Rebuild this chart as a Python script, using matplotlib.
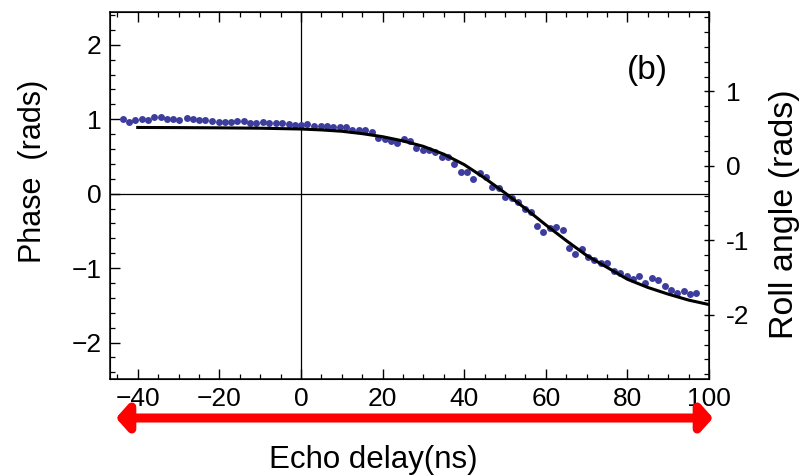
import matplotlib
matplotlib.use("Agg")
import matplotlib.pyplot as plt
from matplotlib.patches import FancyArrowPatch
from matplotlib.ticker import MultipleLocator, FixedLocator

plt.rcParams["font.family"] = ["Liberation Sans", "DejaVu Sans"]

# --- measured echo phase (dots) ---
delay_ns = [-43.6, -42.1, -40.6, -38.9, -37.5, -36.0, -34.4, -32.8, -31.3, -29.8,
            -28.0, -26.5, -24.9, -23.4, -21.8, -20.2, -18.7, -17.1, -15.6, -14.0,
            -12.4, -10.9, -9.3, -7.8, -6.2, -4.6, -3.0, -1.5, 0.1, 1.6,
            3.2, 4.9, 6.4, 7.9, 9.5, 11.1, 12.6, 14.2, 15.7, 17.3,
            18.9, 20.5, 22.0, 23.5, 25.2, 26.7, 28.3, 29.8, 31.4, 32.9,
            34.5, 36.0, 37.6, 39.1, 40.7, 42.2, 43.8, 45.4, 46.9, 48.5,
            50.1, 51.7, 53.2, 54.8, 56.3, 57.9, 59.4, 61.0, 62.5, 64.1,
            65.7, 67.2, 68.8, 70.4, 71.9, 73.5, 75.1, 76.7, 78.2, 79.8,
            81.3, 82.9, 84.4, 86.0, 87.6, 89.2, 90.7, 92.2, 93.8, 95.4, 96.9]
phase = [0.996, 0.969, 0.983, 1.000, 0.983, 1.023, 1.023, 1.009, 1.004, 0.991,
         1.017, 0.996, 0.987, 0.983, 0.977, 0.964, 0.969, 0.969, 0.973, 0.973,
         0.950, 0.950, 0.956, 0.946, 0.946, 0.946, 0.937, 0.923, 0.923, 0.929,
         0.915, 0.902, 0.902, 0.897, 0.897, 0.889, 0.856, 0.856, 0.852, 0.826,
         0.749, 0.732, 0.709, 0.682, 0.736, 0.705, 0.611, 0.588, 0.588, 0.557,
         0.490, 0.486, 0.400, 0.289, 0.289, 0.191, 0.271, 0.221, 0.083, 0.074,
         -0.043, -0.056, -0.110, -0.204, -0.252, -0.436, -0.521, -0.459, -0.450, -0.486,
         -0.736, -0.808, -0.742, -0.848, -0.893, -0.929, -0.929, -1.044, -1.071, -1.107,
         -1.144, -1.103, -1.201, -1.130, -1.165, -1.238, -1.291, -1.340, -1.309, -1.349,
         -1.332]

# --- theory curve (black line) ---
fit_ns = [-40, -30, -20, -10, 0, 5, 10, 15, 20, 25, 30, 35, 40, 45, 50,
          55, 60, 65, 70, 75, 80, 85, 90, 95, 100]
fit_phase = [0.889, 0.887, 0.884, 0.879, 0.868, 0.856, 0.838, 0.806, 0.765, 0.708,
             0.635, 0.530, 0.390, 0.210, 0.010, -0.200, -0.420, -0.630, -0.830, -0.990,
             -1.150, -1.260, -1.350, -1.430, -1.490]

x_ticks = [-40, -20, 0, 20, 40, 60, 80, 100]
x_labels = ["\u221240", "\u221220", "0", "20", "40", "60", "80", "100"]
phase_ticks = [-2, -1, 0, 1, 2]
phase_labels = ["\u22122", "\u22121", "0", "1", "2"]
roll_ticks = [-2, -1, 0, 1]
roll_labels = ["-2", "-1", "0", "1"]

ROLL_OFFSET = 0.373   # roll = phase - offset
XLIM = (-46.8, 100)
YLIM = (-2.49, 2.44)

fig = plt.figure(figsize=(8.06, 4.76), dpi=100)
ax = fig.add_axes([110/806, 97/476, 599/806, 367/476])

ax.axvline(0, color="black", lw=0.9, zorder=1)
ax.axhline(0, color="black", lw=0.9, zorder=1)
ax.plot(delay_ns, phase, "o", color="#3d3d9e", ms=5.0, mec="none", zorder=3)
ax.plot(fit_ns, fit_phase, color="black", lw=2.2, zorder=4)

ax.set_xlim(*XLIM)
ax.set_ylim(*YLIM)

ax.xaxis.set_major_locator(FixedLocator(x_ticks))
ax.set_xticklabels(x_labels)
ax.xaxis.set_minor_locator(MultipleLocator(5))
ax.yaxis.set_major_locator(FixedLocator(phase_ticks))
ax.set_yticklabels(phase_labels)
ax.yaxis.set_minor_locator(MultipleLocator(0.2))

ax.tick_params(axis="x", which="both", direction="in", top=True, labelsize=19, pad=6)
ax.tick_params(axis="y", which="both", direction="in", right=False, labelsize=19, pad=6)
ax.tick_params(which="major", length=7, width=1.0)
ax.tick_params(which="minor", length=3.6, width=0.9)
for s in ax.spines.values():
    s.set_linewidth(1.1)

ax2 = ax.twinx()
ax2.set_ylim(YLIM[0] - ROLL_OFFSET, YLIM[1] - ROLL_OFFSET)
ax2.yaxis.set_major_locator(FixedLocator(roll_ticks))
ax2.set_yticklabels(roll_labels)
ax2.yaxis.set_minor_locator(MultipleLocator(0.2))
ax2.tick_params(axis="y", which="major", direction="inout", length=7, width=1.0,
                labelsize=19, pad=9)
ax2.tick_params(axis="y", which="minor", direction="in", length=3.6, width=0.9)

fig.text(647/806, 1 - 70/476, "(b)", fontsize=24, ha="center", va="center")

fig.text(33/806, 1 - 171/476, "Phase  (rads)", rotation=90, fontsize=22,
         ha="center", va="center")
fig.text(785/806, 1 - 214/476, "Roll angle (rads)", rotation=90, fontsize=24.5,
         ha="center", va="center")
fig.text(373/806, 1 - 460/476, "Echo delay(ns)", fontsize=22.5,
         ha="center", va="center")

# red double arrow under the axis
fig.patches.append(FancyArrowPatch(
    (116/806, 1 - 418/476), (713/806, 1 - 418/476), transform=fig.transFigure,
    arrowstyle="<|-|>,head_length=3.2,head_width=3.6", color="#ff0000", lw=6.5,
    mutation_scale=2.2, shrinkA=0, shrinkB=0))

fig.savefig("out.png", dpi=100)
